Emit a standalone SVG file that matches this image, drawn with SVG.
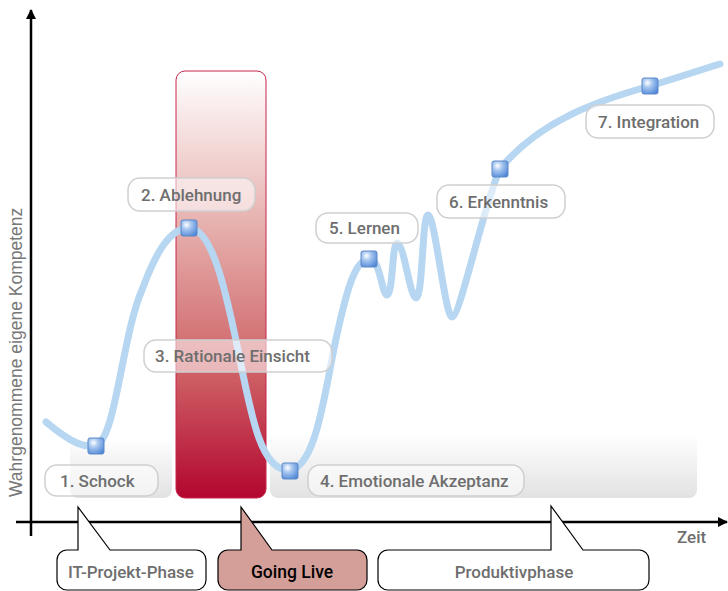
<svg xmlns="http://www.w3.org/2000/svg" width="728" height="591" viewBox="0 0 728 591">
<defs>
<linearGradient id="gPanel" x1="0" y1="0" x2="0" y2="1">
<stop offset="0" stop-color="#ffffff"/>
<stop offset="1" stop-color="#e2e2e2"/>
</linearGradient>
<linearGradient id="gRed" x1="0" y1="0" x2="0" y2="1">
<stop offset="0" stop-color="#ffffff"/>
<stop offset="0.42" stop-color="#e2a3a0"/>
<stop offset="0.72" stop-color="#cd5d63"/>
<stop offset="1" stop-color="#b3062f"/>
</linearGradient>
<radialGradient id="gSq" cx="0.35" cy="0.3" r="0.8">
<stop offset="0" stop-color="#ffffff"/>
<stop offset="0.35" stop-color="#a9c8f0"/>
<stop offset="1" stop-color="#4f86d6"/>
</radialGradient>
<marker id="arr" viewBox="0 0 10 10" refX="9" refY="5" markerWidth="10" markerHeight="10" markerUnits="userSpaceOnUse" orient="auto">
<path d="M0,0 L10,5 L0,10 z" fill="#000"/>
</marker>
<style>
.lbl rect{fill:#ffffff;fill-opacity:0.55;stroke:#cfcfcf;stroke-width:1.5}
.lbl text,.t{font-family:Roboto,"Liberation Sans",sans-serif;font-weight:500;font-size:17px;fill:#6e6e6e}
.sq{fill:url(#gSq);stroke:#5d88c8;stroke-width:1}
.call{stroke:#000;stroke-width:1.2}
.ax{stroke:#000;stroke-width:2.5;fill:none}
</style>
</defs>

<g id="panels">
<path d="M70,437 H172 V490 a8,8 0 0 1 -8,8 H78 a8,8 0 0 1 -8,-8 Z" fill="url(#gPanel)"/>
<path d="M270,433 H697 V490 a8,8 0 0 1 -8,8 H278 a8,8 0 0 1 -8,-8 Z" fill="url(#gPanel)"/>
</g>

<g id="going-live-band">
<rect x="176" y="71" width="90" height="427" rx="9" fill="url(#gRed)" stroke="#c5264a" stroke-width="1"/>
</g>

<g id="connectors">
<path d="M46,422 C70,442 88,452 100,442 C116,428 124,330 142,290 C156,252 170,228 189,228 C212,228 226,290 240,360 C252,420 262,470 288,470 C318,470 326,380 338,330 C348,285 356,259 370,259 C380,259 382,295 387,295 C393,295 392,243 397,243 C404,243 410,298 416,298 C423,298 422,215 428,215 C435,215 445,317 452,317 C460,317 485,200 500,169 C540,120 600,100 650,86 C680,77 700,70 720,64" fill="none" stroke="#b6d6f1" stroke-width="7" stroke-linecap="round" stroke-linejoin="round"/>
</g>

<g id="n1" class="lbl"><rect x="45" y="465" width="113" height="31" rx="12"/><text x="60" y="487">1. Schock</text></g>
<g id="n2" class="lbl"><rect x="128" y="178" width="127" height="33" rx="12"/><text x="141" y="201">2. Ablehnung</text></g>
<g id="n3" class="lbl"><rect x="144" y="340" width="188" height="32" rx="12"/><text x="155" y="362">3. Rationale Einsicht</text></g>
<g id="n4" class="lbl"><rect x="308" y="465" width="216" height="31" rx="12"/><text x="320" y="487">4. Emotionale Akzeptanz</text></g>
<g id="n5" class="lbl"><rect x="316" y="213" width="102" height="30" rx="12"/><text x="329" y="234">5. Lernen</text></g>
<g id="n6" class="lbl"><rect x="437" y="185" width="128" height="33" rx="12"/><text x="449" y="208">6. Erkenntnis</text></g>
<g id="n7" class="lbl"><rect x="586" y="105" width="128" height="33" rx="12"/><text x="598" y="128">7. Integration</text></g>

<g id="markers">
<rect class="sq" x="88" y="438" width="16" height="16" rx="2"/>
<rect class="sq" x="181" y="220" width="16" height="16" rx="2"/>
<rect class="sq" x="282" y="463" width="16" height="16" rx="2"/>
<rect class="sq" x="361" y="251" width="16" height="16" rx="2"/>
<rect class="sq" x="492" y="161" width="16" height="16" rx="2"/>
<rect class="sq" x="642" y="78" width="16" height="16" rx="2"/>
</g>

<g id="axes">
<line class="ax" x1="31" y1="536" x2="31" y2="10" marker-end="url(#arr)"/>
<line class="ax" x1="16" y1="522" x2="727" y2="522" marker-end="url(#arr)"/>
<text x="0" y="0" transform="translate(22,497) rotate(-90)" font-family="'Liberation Sans',Arial,sans-serif" font-size="17.5" fill="#777">Wahrgenommene eigene Kompetenz</text>
<text class="t" x="677" y="543">Zeit</text>
</g>

<g id="phase-it">
<path class="call" d="M67,550 H78 V507 L110,550 H196 a10,10 0 0 1 10,10 V580 a10,10 0 0 1 -10,10 H67 a10,10 0 0 1 -10,-10 V560 a10,10 0 0 1 10,-10 Z" fill="#fff"/>
<text class="t" x="131" y="578" text-anchor="middle">IT-Projekt-Phase</text>
</g>
<g id="phase-live">
<path class="call" d="M228,550 H241 V507 L272,550 H357 a10,10 0 0 1 10,10 V580 a10,10 0 0 1 -10,10 H228 a10,10 0 0 1 -10,-10 V560 a10,10 0 0 1 10,-10 Z" fill="#d49f98"/>
<text class="t" x="292" y="578" text-anchor="middle" style="fill:#000;font-size:17.5px">Going Live</text>
</g>
<g id="phase-prod">
<path class="call" d="M388,550 H551 V506 L583,550 H639 a10,10 0 0 1 10,10 V580 a10,10 0 0 1 -10,10 H388 a10,10 0 0 1 -10,-10 V560 a10,10 0 0 1 10,-10 Z" fill="#fff"/>
<text class="t" x="514" y="578" text-anchor="middle">Produktivphase</text>
</g>
</svg>
